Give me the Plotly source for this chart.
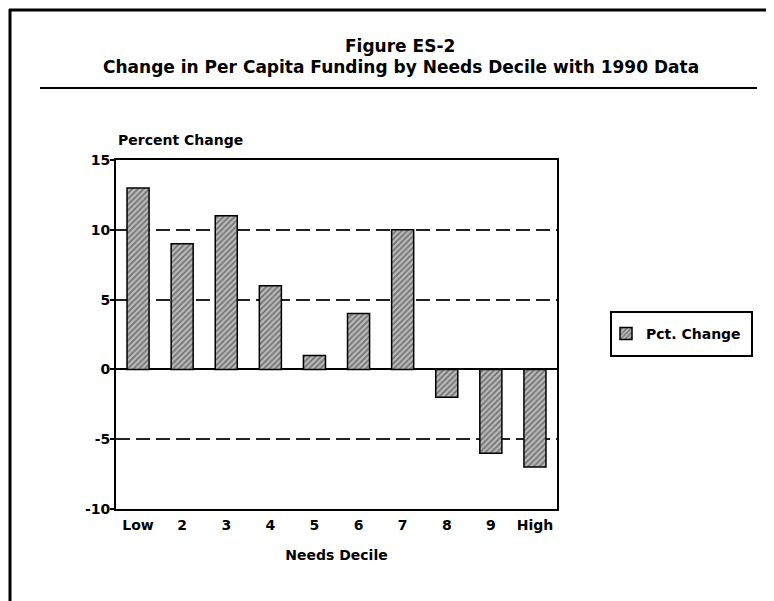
import plotly.graph_objects as go

categories = ["Low", "2", "3", "4", "5", "6", "7", "8", "9", "High"]
pct_change = [13, 9, 11, 6, 1, 4, 10, -2, -6, -7]
y_tickvals = [-10, -5, 0, 5, 10, 15]
y_ticktext = ["-10", "-5", "0", "5", "10", "15"]

# The page adds an 8px body margin, so figure coordinates = reference pixels - 8
OFF = 8
W, H = 774 - OFF, 601 - OFF
L, R, T, B = 116 - OFF, 557 - OFF, 160 - OFF, 509 - OFF
FONT = "DejaVu Sans, Verdana, sans-serif"


def px_x(x):
    return (x - OFF - L) / (R - L)


def px_y(y):
    return (B - (y - OFF)) / (B - T)


fig = go.Figure()
fig.add_trace(go.Bar(
    x=categories, y=pct_change, name="Pct. Change", width=0.5,
    marker=dict(color="#b8b8b8",
                line=dict(color="black", width=1.5),
                pattern=dict(shape="/", fgcolor="#2a2a2a", bgcolor="#bababa",
                             size=4, solidity=0.45)),
))

fig.update_layout(
    width=W, height=H,
    paper_bgcolor="white", plot_bgcolor="white",
    margin=dict(l=L, r=W - R, t=T, b=H - B, pad=0),
    font=dict(family=FONT, color="black"),
    showlegend=True,
    legend=dict(x=px_x(606), y=px_y(334), xanchor="left", yanchor="middle",
                borderwidth=0, bgcolor="rgba(0,0,0,0)",
                font=dict(size=14, family=FONT, weight="bold"),
                itemwidth=30),
)
fig.update_xaxes(showline=True, linecolor="black", linewidth=2, mirror=True,
                 ticks="", tickfont=dict(size=14, weight="bold"), ticklabelstandoff=2,
                 title=dict(text="Needs Decile", font=dict(size=14, weight="bold"), standoff=18))
fig.update_yaxes(range=[-10, 15], tickvals=y_tickvals, ticktext=y_ticktext,
                 showline=True, linecolor="black", linewidth=2, mirror=True,
                 ticks="outside", ticklen=4, tickwidth=1.5, tickcolor="black",
                 tickfont=dict(size=14, weight="bold"), ticklabelstandoff=-3,
                 showgrid=True, gridcolor="#222", gridwidth=1.5, griddash="14px,6px",
                 zeroline=True, zerolinecolor="black", zerolinewidth=1.5)

fig.add_annotation(text="Percent Change", xref="paper", yref="paper",
                   x=px_x(116), y=px_y(140), xanchor="left", yanchor="middle",
                   showarrow=False, font=dict(size=14, weight="bold"))
fig.add_annotation(text="Figure ES-2", xref="paper", yref="paper",
                   x=px_x(400), y=px_y(46), xanchor="center", yanchor="middle",
                   showarrow=False, font=dict(size=17, weight="bold"))
fig.add_annotation(text="Change in Per Capita Funding by Needs Decile with 1990 Data",
                   xref="paper", yref="paper",
                   x=px_x(401), y=px_y(67), xanchor="center", yanchor="middle",
                   showarrow=False, font=dict(size=17, weight="bold"))

# outer frame
fig.add_shape(type="line", xref="paper", yref="paper", x0=px_x(9), x1=px_x(780), y0=px_y(10), y1=px_y(10),
              line=dict(color="black", width=3))
fig.add_shape(type="line", xref="paper", yref="paper", x0=px_x(10), x1=px_x(10), y0=px_y(9), y1=px_y(610),
              line=dict(color="black", width=3))
# rule under title
fig.add_shape(type="line", xref="paper", yref="paper", x0=px_x(40), x1=px_x(757), y0=px_y(88), y1=px_y(88),
              line=dict(color="black", width=2))
# legend box
fig.add_shape(type="rect", xref="paper", yref="paper", x0=px_x(611), x1=px_x(752), y0=px_y(312), y1=px_y(356),
              line=dict(color="black", width=2))

fig.write_html("out.html")
